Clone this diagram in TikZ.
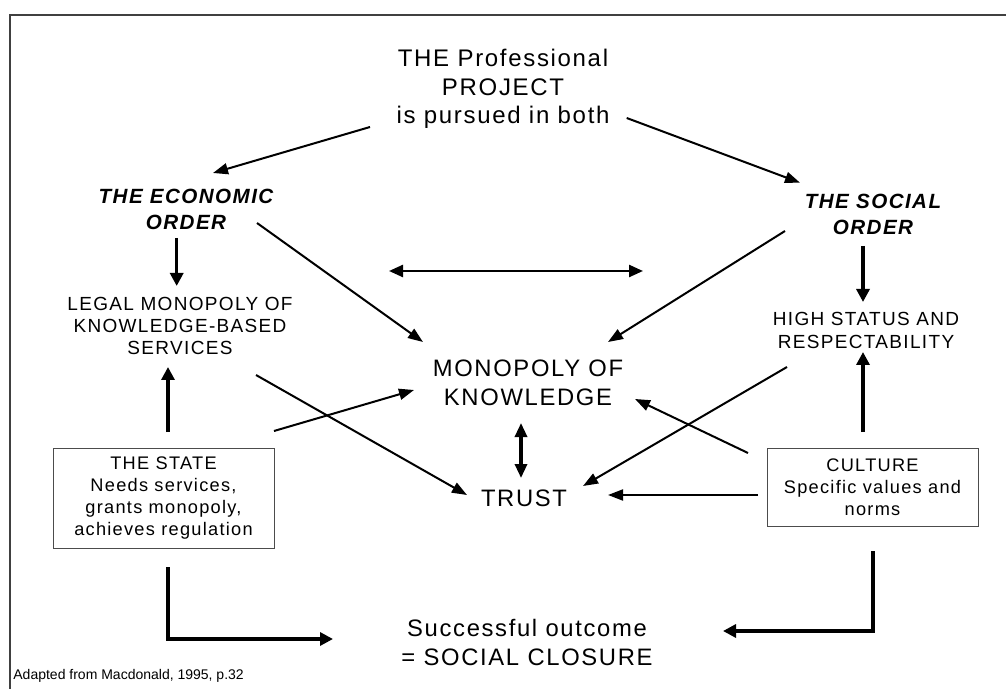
\documentclass[tikz,border=0pt]{standalone}
\usepackage{fontspec}
\setmainfont{Liberation Sans}[LetterSpace=7]
\newfontfamily\plainfont{Liberation Sans}
\usepackage{tikz}
\usetikzlibrary{arrows.meta, calc}

\begin{document}
\begin{tikzpicture}[x=0.5pt, y=-0.5pt,
  lbl/.style={inner sep=0pt, align=center},
  headtxt/.style={lbl, font=\fontsize{12}{14.3}\selectfont},
  ordertxt/.style={lbl, font=\fontsize{10.3}{13}\selectfont\bfseries\itshape},
  smalltxt/.style={lbl, font=\fontsize{9.5}{11.2}\selectfont},
  midtxt/.style={lbl, font=\fontsize{11.9}{14.5}\selectfont},
  boxtxt/.style={draw=black!70, line width=0.5pt, inner sep=0pt, align=center, font=\fontsize{9.1}{11}\selectfont},
  arr/.style={-{Triangle[length=7.5pt, width=5.5pt]}, line width=1pt},
  dblarr/.style={{Triangle[length=7pt, width=6pt]}-{Triangle[length=7pt, width=6pt]}, line width=1.2pt},
  fatarr/.style={-{Triangle[length=6.5pt, width=6.5pt]}, line width=1.6pt},
]
  \useasboundingbox (0,0) rectangle (1006,689);

  % Frame
  \draw[line width=0.9pt, black!75] (1006,15) -- (10,15) -- (10,689);

  % Project
  \node[headtxt] (proj) at (503,89) {THE Professional\\PROJECT\\is pursued in both};

  % The two orders
  \node[ordertxt] (econ) at (186,209.5) {THE ECONOMIC\\ORDER};
  \node[ordertxt] (social) at (873,214.5) {THE SOCIAL\\ORDER};

  % What each order gives
  \node[smalltxt] (legal) at (180,326) {LEGAL MONOPOLY OF\\KNOWLEDGE-BASED\\SERVICES};
  \node[smalltxt] (high) at (866,330.5) {HIGH STATUS AND\\RESPECTABILITY};

  % Centre
  \node[midtxt] (mono) at (528,383) {MONOPOLY OF\\KNOWLEDGE};
  \node[midtxt] (trust) at (524,498.5) {TRUST};

  % Boxes
  \node[boxtxt, minimum width=110.5pt, minimum height=50pt] (state) at (163.5,498) {THE STATE\\Needs services,\\grants monopoly,\\achieves regulation};
  \node[boxtxt, minimum width=105.5pt, minimum height=39pt] (culture) at (872.5,487) {CULTURE\\Specific values and\\norms};

  % Outcome
  \node[midtxt] (outcome) at (527,642) {Successful outcome\\= SOCIAL CLOSURE};

  % Source
  \node[lbl, anchor=base west, font=\plainfont\fontsize{7}{9}\selectfont] (source) at (13,679) {Adapted from Macdonald, 1995, p.32};

  % Project to orders
  \draw[arr] ($(proj)+(-133,38)$) -- ($(econ)+(27,-36.5)$);
  \draw[arr] ($(proj)+(123.7,29)$) -- ($(social)+(-73,-31.8)$);

  % Down and up arrows
  \draw[fatarr] ($(econ)+(-9.3,28.5)$) -- ($(legal)+(-3.3,-40)$);
  \draw[fatarr] ($(state)+(4.5,-66)$) -- ($(legal)+(-12,41)$);
  \draw[fatarr] ($(social)+(-10,31.5)$) -- ($(high)+(-3,-28.5)$);
  \draw[fatarr] ($(culture)+(-9.5,-55)$) -- ($(high)+(-3,21.5)$);

  % Orders to monopoly
  \draw[arr] ($(econ)+(71,13.5)$) -- ($(mono)+(-105,-41)$);
  \draw[arr] ($(social)+(-88,16.5)$) -- ($(mono)+(80,-41)$);
  \draw[dblarr] ($(econ)+(203,61.5)$) -- ($(social)+(-230,56.5)$);

  % Crossing arrows
  \draw[arr] ($(legal)+(76,49)$) -- ($(trust)+(-57,-3.5)$);
  \draw[arr] ($(state)+(110.5,-67)$) -- ($(mono)+(-114,7)$);
  \draw[arr] ($(culture)+(-124.5,-34)$) -- ($(mono)+(107,16)$);
  \draw[arr] ($(high)+(-79,36.5)$) -- ($(trust)+(59,-12.5)$);
  \draw[arr] ($(culture)+(-114.5,8)$) -- ($(trust)+(84,-3.5)$);
  \draw[dblarr, line width=1.6pt] ($(mono)+(-7,40)$) -- ($(trust)+(-3,-20.5)$);

  % To the outcome
  \draw[fatarr] ($(state)+(4.5,69)$) |- ($(outcome)+(-194,-3)$);
  \draw[fatarr] ($(culture)+(0.5,64)$) |- ($(outcome)+(196,-11)$);
\end{tikzpicture}
\end{document}
